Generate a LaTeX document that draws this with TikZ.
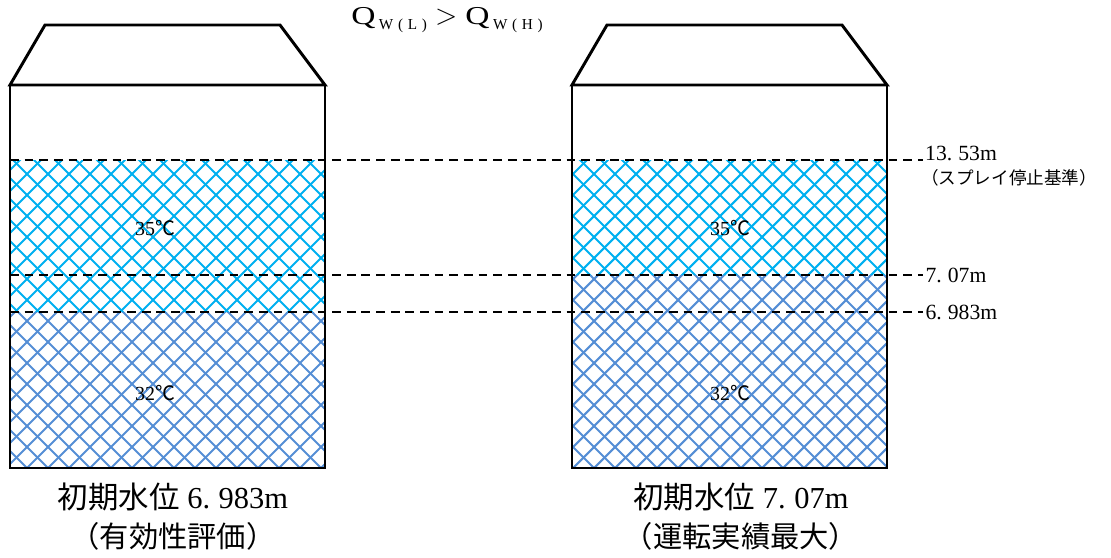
\documentclass[tikz,border=0pt]{standalone}
\usepackage{fontspec}
\setmainfont{Liberation Serif}
\newfontfamily\jp{Noto Sans CJK JP}
\usetikzlibrary{positioning}
\definecolor{Warm}{HTML}{00B0F0}
\definecolor{Cool}{HTML}{558ED5}

% cross hatching of one water layer, clipped to its box
\newcommand{\hatchbox}[5]{%
  \begin{scope}
    \clip (#1,#2) rectangle (#3,#4);
    \foreach \k in {0,...,68} {
      \draw[hatch,#5] ({\k*21-609},0) -- ++(600,600);
      \draw[hatch,#5] ({\k*21-462},600) -- ++(600,-600);
    }
  \end{scope}}
\newcommand{\dt}{.\hspace{0.28em}}
\newcommand{\qsub}[1]{\raisebox{-0.45ex}{\fontsize{13}{15}\selectfont\hspace{3pt}W\hspace{4pt}(\hspace{4pt}#1\hspace{4pt})}}

\begin{document}
\begin{tikzpicture}[x=0.03cm,y=-0.03cm,node distance=0pt]
  \tikzstyle{hatch}=[line width=1.8pt]
  \tikzstyle{tank}=[line width=2.5pt,line join=miter]
  \tikzstyle{level}=[line width=1.6pt,dash pattern=on 7.5pt off 5pt]
  \tikzstyle{temp}=[inner sep=0pt,font=\fontsize{17}{20}\selectfont]
  \tikzstyle{levellabel}=[inner sep=0pt,anchor=west,font=\fontsize{18.5}{21}\selectfont]
  \tikzstyle{caption}=[inner sep=0pt,font=\fontsize{26}{30}\selectfont]
  \useasboundingbox (0,0) rectangle (1111,558);

  % water layers
  \hatchbox{10}{160}{325}{312}{Warm}
  \hatchbox{10}{312}{325}{468}{Cool}
  \hatchbox{572}{160}{887}{275}{Warm}
  \hatchbox{572}{275}{887}{468}{Cool}

  % tanks
  \draw[tank] (45,25) -- (280,25) -- (325,85) -- (10,85) -- cycle;
  \draw[tank] (10,85) rectangle (325,468);
  \draw[tank] (607,25) -- (842,25) -- (887,85) -- (572,85) -- cycle;
  \draw[tank] (572,85) rectangle (887,468);

  % water levels
  \coordinate (topW) at (10,160);   \coordinate (topE) at (923,160);
  \coordinate (midW) at (10,275);   \coordinate (midE) at (923,275);
  \coordinate (lowW) at (10,312);   \coordinate (lowE) at (923,312);
  \draw[level] (topW) -- (topE);
  \draw[level] (midW) -- (midE);
  \draw[level] (lowW) -- (lowE);

  \node[levellabel,anchor=base west] (topLbl) at (925,160) {13\dt53m};
  \node[levellabel,anchor=west,font=\fontsize{15}{17}\selectfont] (note) at (921,178) {\jp （スプレイ停止基準）};
  \node[levellabel,right=2pt of midE] (midLbl) {7\dt07m};
  \node[levellabel,right=2pt of lowE] (lowLbl) {6\dt983m};

  \node[font=\fontsize{22}{24}\selectfont] (title) at (447,20)
    {\scalebox{1.3}[1]{Q}\qsub{L}\hspace{7pt}\scalebox{1.2}{$>$}\hspace{7pt}\scalebox{1.3}[1]{Q}\qsub{H}};

  % temperatures
  \node[temp] (warmL) at (155,228) {35{\jp ℃}};
  \node[temp] (coolL) at (155,393) {32{\jp ℃}};
  \node[temp] (warmR) at (730,228) {35{\jp ℃}};
  \node[temp] (coolR) at (730,393) {32{\jp ℃}};

  % captions
  \node[caption] (capL) at (173,497) {{\jp 初期水位} 6\dt983m};
  \node[caption,below=9pt of capL,font=\fontsize{25}{30}\selectfont] (subL) {\jp （有効性評価）};
  \node[caption] (capR) at (741,497) {{\jp 初期水位} 7\dt07m};
  \node[caption,below=9pt of capR,font=\fontsize{25}{30}\selectfont] (subR) {\jp （運転実績最大）};
\end{tikzpicture}
\end{document}
